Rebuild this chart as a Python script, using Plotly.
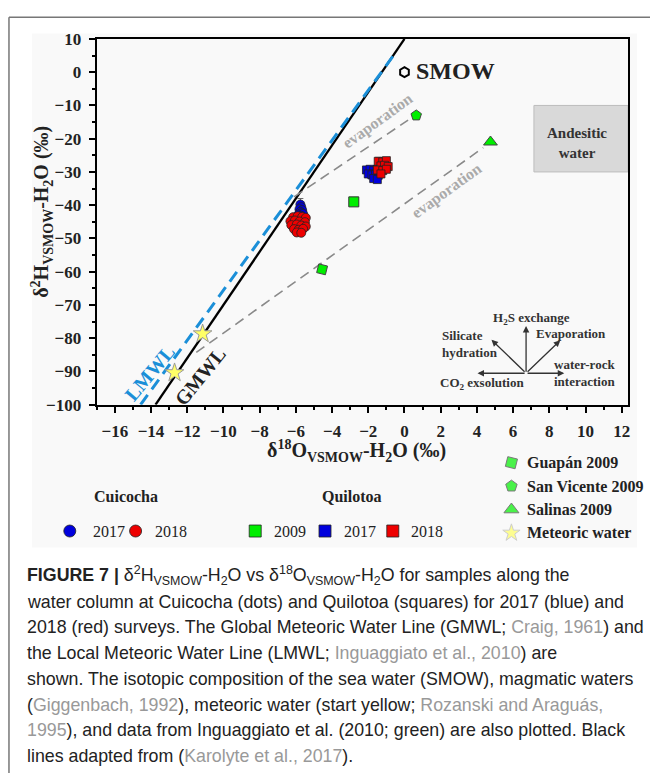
import plotly.graph_objects as go

W, H = 652, 783

# ---------------- data ----------------
# Global / Local meteoric water lines (slope, intercept)
GMWL = (8.0, 10.0)
LMWL = (7.52, 9.6)
LMWL_X_END = -0.5

SMOW_O, SMOW_H = [0.0], [0.0]
GUAPAN_O, GUAPAN_H = [-4.55], [-59.3]
SANVIC_O, SANVIC_H = [0.65], [-13.0]
SALINAS_O, SALINAS_H = [4.75], [-21.0]
METEORIC_O, METEORIC_H = [-11.15, -12.7], [-78.7, -90.4]

QUIL09_O, QUIL09_H = [-2.8], [-39.0]

CUI17_O = [-5.75, -5.7, -5.8, -5.65, -5.75, -5.7, -5.85, -5.6, -5.7]
CUI17_H = [-39.8, -40.6, -41.2, -41.5, -42.0, -42.4, -42.8, -42.6, -43.2]
CUI17_E = [1.8, 0, 0, 0, 0, 0, 0, 0, 0]

CUI18_O = [-6.15, -5.9, -5.65, -5.45, -6.3, -6.05, -5.8, -5.5, -6.25, -5.95, -5.7, -5.45,
           -6.1, -5.85, -5.6, -5.95, -5.7]
CUI18_H = [-43.6, -43.3, -43.5, -43.8, -44.8, -44.6, -44.9, -45.1, -46.0, -45.8, -46.1, -46.4,
           -47.2, -47.4, -47.1, -48.2, -48.3]

QUI17_O = [-2.1, -1.9, -1.7, -1.5, -2.0, -1.8, -1.6, -1.45, -1.7, -1.5]
QUI17_H = [-29.4, -29.2, -29.6, -29.3, -30.6, -30.9, -30.7, -31.0, -32.0, -32.3]

QUI18_O = [-1.45, -1.2, -1.0, -1.3, -1.1, -0.9, -1.5, -1.2, -1.0, -1.3]
QUI18_H = [-26.8, -27.0, -26.6, -28.2, -28.0, -28.4, -29.4, -29.6, -29.2, -30.6]
QUI18_E = [1.2, 1.2, 0, 0, 0, 0, 0, 0, 0, 0]

# evaporation trends (start -> end)
EVAP1_O, EVAP1_H = [-6.1, 0.2], [-37.5, -14.4]
EVAP2_O, EVAP2_H = [-11.5, 4.35], [-84.3, -22.7]

# andesitic water field
ANDES_O = [7.15, 12.35]
ANDES_H = [-30.0, -10.0]

X_RANGE = [-17.0, 12.35]
Y_RANGE = [-100, 10]

# ---------------- layout helpers ----------------
PL, PR, PT, PB = 97, 630, 30.7, 405.5
SERIF = "Liberation Serif, Times New Roman, serif"
SANS = "Liberation Sans, Arial, sans-serif"


def px(x):
    return x / W


def py(y):
    return 1 - y / H


fig = go.Figure()

# meteoric water lines
gx = [(Y_RANGE[0] - GMWL[1]) / GMWL[0], (Y_RANGE[1] - GMWL[1]) / GMWL[0]]
gy = [GMWL[0] * v + GMWL[1] for v in gx]
lx0 = (Y_RANGE[0] - LMWL[1]) / LMWL[0]
lx = [lx0, LMWL_X_END]
ly = [LMWL[0] * v + LMWL[1] for v in lx]

fig.add_trace(go.Scatter(x=gx, y=gy, mode="lines", line=dict(color="black", width=2.3),
                         hoverinfo="skip", showlegend=False))
fig.add_trace(go.Scatter(x=lx, y=ly, mode="lines",
                         line=dict(color="#1b8fd8", width=3, dash="12px,7px"),
                         hoverinfo="skip", showlegend=False))

# evaporation lines
for ox, oy in [(EVAP1_O, EVAP1_H), (EVAP2_O, EVAP2_H)]:
    fig.add_trace(go.Scatter(x=ox, y=oy, mode="lines",
                             line=dict(color="#8a8a8a", width=1.6, dash="10px,6px"),
                             hoverinfo="skip", showlegend=False))

# data points
mk_line = dict(color="#222", width=0.8)
fig.add_trace(go.Scatter(x=CUI17_O, y=CUI17_H, mode="markers",
                         error_y=dict(type="data", array=CUI17_E, color="#666", thickness=1, width=3),
                         marker=dict(symbol="circle", size=9, color="#0000dd", line=mk_line),
                         showlegend=False))
fig.add_trace(go.Scatter(x=CUI18_O, y=CUI18_H, mode="markers",
                         marker=dict(symbol="circle", size=9, color="#ee0000", line=mk_line),
                         showlegend=False))
fig.add_trace(go.Scatter(x=QUI17_O, y=QUI17_H, mode="markers",
                         marker=dict(symbol="square", size=8, color="#0000dd", line=mk_line),
                         showlegend=False))
fig.add_trace(go.Scatter(x=QUI18_O, y=QUI18_H, mode="markers",
                         error_y=dict(type="data", array=QUI18_E, color="#666", thickness=1, width=3),
                         marker=dict(symbol="square", size=8, color="#ee0000", line=mk_line),
                         showlegend=False))
fig.add_trace(go.Scatter(x=QUIL09_O, y=QUIL09_H, mode="markers",
                         marker=dict(symbol="square", size=10, color="#00ee00",
                                     line=dict(color="#333", width=1)),
                         showlegend=False))
fig.add_trace(go.Scatter(x=GUAPAN_O, y=GUAPAN_H, mode="markers",
                         marker=dict(symbol="square", size=9, angle=14, color="#00ee00",
                                     line=dict(color="#444", width=1)),
                         showlegend=False))
fig.add_trace(go.Scatter(x=SANVIC_O, y=SANVIC_H, mode="markers",
                         marker=dict(symbol="pentagon", size=11, color="#00ee00",
                                     line=dict(color="#444", width=1)),
                         showlegend=False))
fig.add_trace(go.Scatter(x=SALINAS_O, y=SALINAS_H, mode="markers",
                         marker=dict(symbol="triangle-up", size=12, color="#00ee00",
                                     line=dict(color="#444", width=1)),
                         showlegend=False))
fig.add_trace(go.Scatter(x=METEORIC_O, y=METEORIC_H, mode="markers",
                         marker=dict(symbol="star", size=14, color="#ffff66",
                                     line=dict(color="#999", width=1)),
                         showlegend=False))
fig.add_trace(go.Scatter(x=SMOW_O, y=SMOW_H, mode="markers",
                         marker=dict(symbol="hexagon-open", size=10, color="black",
                                     line=dict(color="black", width=2)),
                         showlegend=False))

# legend glyphs on full-figure pixel axes
LEG_CIRC_X, LEG_CIRC_C = [70, 136], ["#0000dd", "#ee0000"]
LEG_SQ_X, LEG_SQ_C = [256, 326, 394], ["#00ee00", "#0000dd", "#ee0000"]
LEG_ROW_Y = 535
fig.add_trace(go.Scatter(x=LEG_CIRC_X, y=[LEG_ROW_Y] * 2, xaxis="x2", yaxis="y2", mode="markers",
                         marker=dict(symbol="circle", size=12, color=LEG_CIRC_C,
                                     line=dict(color="#222", width=0.8)),
                         showlegend=False, hoverinfo="skip"))
fig.add_trace(go.Scatter(x=LEG_SQ_X, y=[LEG_ROW_Y] * 3, xaxis="x2", yaxis="y2", mode="markers",
                         marker=dict(symbol="square", size=12, color=LEG_SQ_C,
                                     line=dict(color="#222", width=0.8)),
                         showlegend=False, hoverinfo="skip"))
RLEG_Y = [465, 489, 513, 537]
RLEG_SYM = ["square", "pentagon", "triangle-up", "star"]
RLEG_COL = ["#00ee00", "#00ee00", "#00ee00", "#ffff66"]
RLEG_LAB = ["Guapán 2009", "San Vicente 2009", "Salinas 2009", "Meteoric water"]
fig.add_trace(go.Scatter(x=[513] * 4, y=RLEG_Y, xaxis="x2", yaxis="y2", mode="markers",
                         marker=dict(symbol=RLEG_SYM, size=[10, 12, 13, 13], color=RLEG_COL,
                                     angle=[14, 0, 0, 0],
                                     line=dict(color=["#444", "#444", "#444", "#bbb"], width=1)),
                         showlegend=False, hoverinfo="skip"))

shapes = []
# panel background & frame
shapes.append(dict(type="rect", xref="paper", yref="paper", x0=px(32), x1=px(639),
                   y0=py(552), y1=py(25), fillcolor="#f9f9f9", line=dict(width=0), layer="below"))
shapes.append(dict(type="line", xref="paper", yref="paper", x0=px(9), x1=1, y0=py(8.5), y1=py(8.5),
                   line=dict(color="#777", width=1.5)))
shapes.append(dict(type="line", xref="paper", yref="paper", x0=px(9), x1=px(9), y0=py(8.5), y1=0,
                   line=dict(color="#777", width=1.5)))
# andesitic water box
shapes.append(dict(type="rect", xref="x", yref="y", x0=ANDES_O[0], x1=ANDES_O[1],
                   y0=ANDES_H[0], y1=ANDES_H[1], fillcolor="#d9d9d9",
                   line=dict(color="#bdbdbd", width=1), layer="below"))

ann = []


def txt(x, y, s, size=15, color="#222", bold=True, angle=0, xanchor="center", font=SERIF, align="center"):
    ann.append(dict(x=px(x), y=py(y), xref="paper", yref="paper", text=(f"<b>{s}</b>" if bold else s),
                    showarrow=False, textangle=angle, xanchor=xanchor, yanchor="middle", align=align,
                    font=dict(family=font, size=size, color=color)))


# axis titles
txt(358, 453, "δ<sup>18</sup>O<sub>VSMOW</sub>-H<sub>2</sub>O (‰)", size=20)
txt(42, 208, "δ<sup>2</sup>H<sub>VSMOW</sub>-H<sub>2</sub>O (‰)", size=20, angle=-90)

# in-plot labels
txt(457, 64, "SMOW", size=24, color="#222")
txt(579, 137, "Andesitic<br>water", size=15, color="#333")
txt(379, 115, "evaporation", size=16, color="#aaaaaa", angle=-36)
txt(448, 187, "evaporation", size=16, color="#aaaaaa", angle=-36)
txt(150, 373, "LMWL", size=20, color="#1b8fd8", angle=-50)
txt(201, 376, "GMWL", size=20, color="#222", angle=-51)

# inset diagram (pixel axes)
CX, CY = 527.7, 373.3
for tx, ty in [(479, 373.3), (566, 373.3), (527.7, 325), (562, 339.5), (493, 339)]:
    ann.append(dict(x=tx, y=ty, ax=CX, ay=CY, xref="x2", yref="y2",
                    axref="x2", ayref="y2", text="", showarrow=True, arrowhead=2,
                    arrowsize=1, arrowwidth=1.3, arrowcolor="#333"))
txt(533, 317, "H<sub>2</sub>S exchange", size=13, color="#333")
txt(573, 333, "Evaporation", size=13, color="#333")
txt(441, 343, "Silicate<br>hydration", size=13, color="#333", xanchor="left", align="left")
txt(554, 373, "water-rock<br>interaction", size=13, color="#333", xanchor="left", align="left")
txt(483, 384, "CO<sub>2</sub> exsolution", size=13, color="#333")

# bottom legend texts
txt(126, 500, "Cuicocha", size=16)
txt(353, 500, "Quilotoa", size=16)
for x, s in [(109, "2017"), (172, "2018"), (291, "2009"), (361, "2017"), (428, "2018")]:
    txt(x, LEG_ROW_Y, s, size=16, bold=False, color="#222")
for y, s in zip(RLEG_Y, RLEG_LAB):
    txt(527, y, s, size=16, xanchor="left")

# caption
G = "<span style='color:#999'>"
E = "</span>"
CAPTION = [
    "<b>FIGURE 7 |</b> δ<sup>2</sup>H<sub>VSMOW</sub>-H<sub>2</sub>O vs δ<sup>18</sup>O<sub>VSMOW</sub>-H<sub>2</sub>O for samples along the",
    "water column at Cuicocha (dots) and Quilotoa (squares) for 2017 (blue) and",
    f"2018 (red) surveys. The Global Meteoric Water Line (GMWL; {G}Craig, 1961{E}) and",
    f"the Local Meteoric Water Line (LMWL; {G}Inguaggiato et al., 2010{E}) are",
    "shown. The isotopic composition of the sea water (SMOW), magmatic waters",
    f"({G}Giggenbach, 1992{E}), meteoric water (start yellow; {G}Rozanski and Araguás,{E}",
    f"{G}1995{E}), and data from Inguaggiato et al. (2010; green) are also plotted. Black",
    f"lines adapted from ({G}Karolyte et al., 2017{E}).",
]
for i, line in enumerate(CAPTION):
    txt(25, 581 + 26.4 * i, line, size=17.8, bold=False, color="#222", xanchor="left", font=SANS)

axis_common = dict(
    ticks="outside", ticklen=6, tickwidth=1.5, tickcolor="black",
    showline=True, linecolor="black", linewidth=2, mirror=True,
    showgrid=False, zeroline=False, ticklabelstandoff=4,
    tickfont=dict(family=SERIF, size=17, color="#222", weight="bold"),
)
fig.update_layout(
    width=W, height=H, margin=dict(l=0, r=0, t=0, b=0),
    paper_bgcolor="white", plot_bgcolor="rgba(0,0,0,0)",
    shapes=shapes, annotations=ann, showlegend=False,
    xaxis=dict(domain=[PL / W, PR / W], range=X_RANGE, tickmode="linear", tick0=-16, dtick=2,
               minor=dict(dtick=1, ticks="outside", ticklen=3, tickcolor="black"),
               anchor="y", **axis_common),
    yaxis=dict(domain=[1 - PB / H, 1 - PT / H], range=Y_RANGE, tickmode="linear", tick0=-100, dtick=10,
               minor=dict(dtick=5, ticks="outside", ticklen=3, tickcolor="black"),
               anchor="x", **axis_common),
    xaxis2=dict(domain=[0, 1], range=[0, W], visible=False, anchor="y2"),
    yaxis2=dict(domain=[0, 1], range=[H, 0], visible=False, anchor="x2"),
)

fig.write_html("out.html")
